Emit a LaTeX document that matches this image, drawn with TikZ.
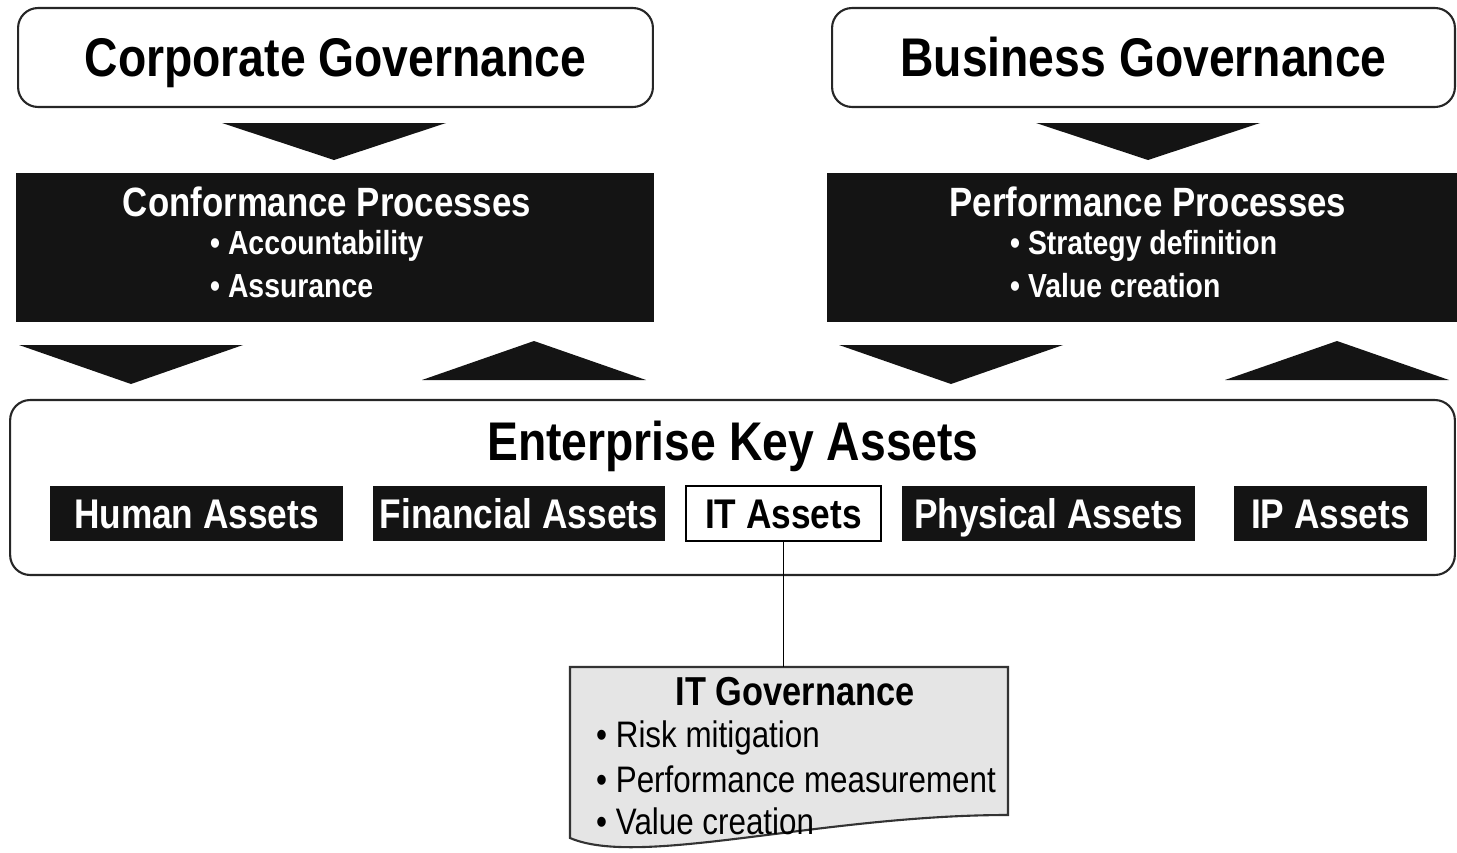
\documentclass[tikz,border=0pt]{standalone}
\usepackage{fontspec}
\setmainfont{Liberation Sans}[FakeStretch=0.85]
\begin{document}
\begin{tikzpicture}[x=0.02cm, y=-0.02cm,
		govbox/.style={draw=black!85, line width=1.2pt, rounded corners=0.4cm, minimum height=1.98cm, text height=22pt, text depth=0pt, font=\bfseries\fontsize{31}{36}\selectfont},
		procbox/.style={fill=black!92, minimum height=2.98cm},
		proctitle/.style={text=white, text height=16.7pt, text depth=0pt, font=\bfseries\fontsize{23.3}{27}\selectfont},
		procitem/.style={text=white, anchor=west, text height=13.6pt, text depth=0pt, font=\bfseries\fontsize{19}{22}\selectfont},
		assetbox/.style={fill=black!92, text=white, minimum height=1.1cm, inner sep=0pt, text height=16.9pt, text depth=0pt, font=\bfseries\fontsize{23.6}{27}\selectfont},
		govitem/.style={anchor=west, text height=15pt, text depth=0pt, font=\fontsize{21}{24}\selectfont}]
		\useasboundingbox (0,0) rectangle (1457,852);
		
		\node[govbox, minimum width=12.7cm] (corpgov) at (335.5,57.5) {Corporate Governance};
		\node[govbox, minimum width=12.46cm] (busgov) at (1143.5,57.5) {Business Governance};
		
		\node[procbox, minimum width=12.76cm] (confbox) at (335,247.5) {};
		\node[proctitle] (conftitle) at (327,202) {Conformance Processes};
		\node[procitem] (confa) at (204,242.5) {\textbullet\ Accountability};
		\node[procitem] (confb) at (204,286) {\textbullet\ Assurance};
		
		\node[procbox, minimum width=12.6cm] (perfbox) at (1142,247.5) {};
		\node[proctitle] (perftitle) at (1148,202) {Performance Processes};
		\node[procitem] (perfa) at (1004,242.5) {\textbullet\ Strategy definition};
		\node[procitem] (perfb) at (1004,286) {\textbullet\ Value creation};
		
		\foreach \cx/\yb/\ya in {334/123/160, 1148/123/160, 131/345/384, 951/345/384, 534/380/341, 1337/380/341}
		{
			\fill[black!92] (\cx-112,\yb) -- (\cx+112,\yb) -- (\cx,\ya) -- cycle;
		}
		
		\node[govbox, minimum width=28.9cm, minimum height=3.5cm] (keyassets) at (732.5,487.5) {};
		\node[text height=22pt, text depth=0pt, font=\bfseries\fontsize{31}{36}\selectfont] (keytitle) at (733,441) {Enterprise Key Assets};
		
		\node[assetbox, minimum width=5.86cm] (human) at (196.5,513.5) {Human Assets};
		\node[assetbox, minimum width=5.84cm] (financial) at (519,513.5) {Financial Assets};
		\node[assetbox, minimum width=3.9cm, fill=white, text=black, draw=black, line width=1pt] (itassets) at (783.5,513.5) {IT Assets};
		\node[assetbox, minimum width=5.86cm] (physical) at (1048.5,513.5) {Physical Assets};
		\node[assetbox, minimum width=3.86cm] (ipassets) at (1330.5,513.5) {IP Assets};
		
		\draw[draw=black!80, line width=1.2pt, fill=black!10] (570,667) -- (1008,667) -- (1008,815) .. controls (820,815) and (640,868) .. (570,838) -- cycle;
		\coordinate (itgovtop) at (783.5,667);
		\draw[line width=1pt] (itassets.south) -- (itgovtop);
		
		\node[text height=16.5pt, text depth=0pt, font=\bfseries\fontsize{23}{27}\selectfont] (itgovtitle) at (795,691) {IT Governance};
		\node[govitem] (itgova) at (590,734.5) {\textbullet\ Risk mitigation};
		\node[govitem] (itgovb) at (590,779) {\textbullet\ Performance measurement};
		\node[govitem] (itgovc) at (590,821.5) {\textbullet\ Value creation};
	\end{tikzpicture}
\end{document}
